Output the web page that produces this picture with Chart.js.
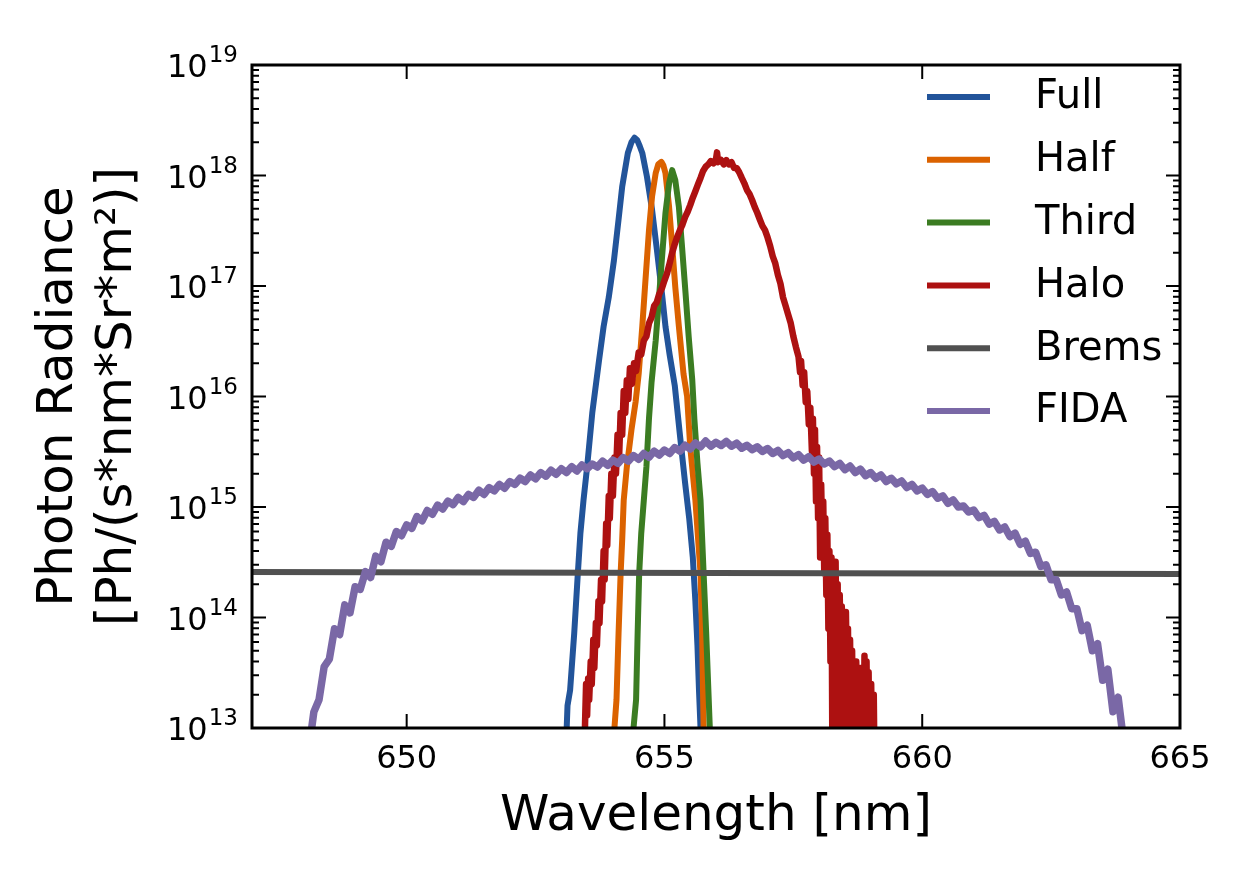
<!DOCTYPE html>
<html><head><meta charset="utf-8">
<script src="https://cdn.jsdelivr.net/npm/chart.js@4.4.1/dist/chart.umd.min.js"></script>
<style>html,body{margin:0;padding:0;background:#fff;}canvas{display:block;}</style>
</head><body>
<canvas id="c" width="1250" height="875"></canvas>
<script>
// ---------- data ----------
const seriesNames  = ['Full','Half','Third','Halo','Brems','FIDA'];
const seriesColors = ['#22549a','#db6200','#3b7c22','#ad1111','#505050','#7a68a6'];
const seriesWidths = [6, 6, 6, 6.5, 6, 7.5];

const xTickValues = [650, 655, 660, 665];
const yDecades = [13, 14, 15, 16, 17, 18, 19];
const yMinorMultipliers = [2, 3, 4, 5, 6, 7, 8, 9];

const fullWl  = [653.08,653.12,653.17,653.25,653.32,653.37,653.43,653.50,653.60,653.73,
                 653.82,653.92,654.02,654.11,654.18,654.29,654.36,654.42,654.47,654.52,
                 654.57,654.66,654.76,654.86,654.96,655.02,655.10,655.20,655.30,655.40,
                 655.48,655.55,655.60,655.64,655.67,655.70,655.72];
const fullVal = [5.0e12,1.6e13,2.2e13,7.2e13,2.5e14,5.8e14,1.15e15,2.3e15,7.1e15,2.1e16,
                 4.3e16,7.9e16,1.7e17,4.0e17,7.9e17,1.6e18,2.0e18,2.2e18,2.1e18,1.85e18,
                 1.6e18,9.8e17,4.9e17,2.0e17,7.9e16,4.3e16,2.4e16,1.26e16,4.5e15,1.66e15,
                 7.9e14,3.5e14,1.4e14,5.6e13,2.2e13,1.0e13,5.0e12];

const halfWl  = [654.00,654.03,654.07,654.11,654.15,654.18,654.21,654.27,654.36,654.44,
                 654.50,654.57,654.63,654.70,654.76,654.83,654.88,654.94,654.98,655.02,
                 655.09,655.15,655.21,655.28,655.37,655.44,655.50,655.60,655.70,655.73,
                 655.76,655.78];
const halfVal = [4.0e12,1.0e13,1.8e13,7.2e13,2.5e14,5.0e14,1.15e15,2.3e15,5.0e15,8.9e15,
                 1.6e16,4.3e16,1.1e17,3.2e17,6.5e17,1.05e18,1.26e18,1.33e18,1.23e18,1.05e18,
                 5.2e17,2.3e17,9.8e16,4.3e16,1.6e16,1.0e16,3.5e15,1.15e15,2.5e14,7.2e13,
                 1.0e13,4.0e12];

const thirdWl  = [654.38,654.40,654.45,654.48,654.51,654.55,654.60,654.65,654.70,654.75,
                  654.83,654.89,654.96,655.02,655.09,655.15,655.21,655.28,655.34,655.41,
                  655.47,655.54,655.58,655.64,655.70,655.76,655.81,655.88,655.90];
const thirdVal = [4.0e12,1.0e13,1.8e13,7.2e13,2.5e14,5.8e14,1.15e15,2.3e15,6.3e15,1.35e16,
                  3.2e16,7.4e16,2.0e17,4.6e17,8.5e17,1.12e18,9.1e17,5.2e17,2.3e17,8.5e16,
                  3.5e16,1.4e16,6.3e15,2.5e15,1.15e15,2.5e14,7.2e13,1.0e13,4.0e12];

const haloWl  = [653.44,653.46,653.48,653.50,653.52,653.54,653.57,653.59,653.62,653.64,
                 653.67,653.69,653.72,653.74,653.77,653.79,653.82,653.84,653.87,653.89,
                 653.92,653.94,653.97,654.00,654.03,654.06,654.09,654.12,654.15,654.18,
                 654.21,654.24,654.27,654.30,654.33,654.37,654.41,654.45,654.50,654.55,
                 654.60,654.65,654.70,654.75,654.80,654.85,654.90,654.95,655.00,655.05,
                 655.10,655.15,655.20,655.25,655.30,655.35,655.40,655.45,655.50,655.55,
                 655.60,655.65,655.70,655.75,655.80,655.85,655.90,655.95,656.00,656.02,
                 656.04,656.10,656.15,656.20,656.25,656.30,656.35,656.40,656.45,656.50,
                 656.55,656.60,656.65,656.70,656.75,656.80,656.85,656.90,656.95,657.00,
                 657.05,657.10,657.15,657.20,657.25,657.30,657.35,657.40,657.45,657.50,
                 657.55,657.60,657.63,657.65,657.68,657.71,657.74,657.77,657.80,657.83,
                 657.86,657.88,657.90,657.92,657.94,657.96,657.98,658.00,658.02,658.04,
                 658.06,658.08,658.10,658.12,658.14,658.16,658.18,658.20,658.22,658.24,
                 658.26,658.28,658.30,658.32,658.34,658.36,658.38,658.40,658.42,658.44,
                 658.46,658.48,658.50,658.52,658.54,658.56,658.58,658.60,658.62,658.64,
                 658.66,658.68,658.70,658.72,658.74,658.76,658.78,658.80,658.82,658.84,
                 658.86,658.88,658.90,658.92,658.94,658.96,658.98,659.01,659.03,659.06,
                 659.08];
const haloVal = [3.2e12,1.1e13,2.5e13,1.3e13,2.8e13,1.8e13,4.0e13,2.5e13,6.3e13,3.5e13,
                 8.9e13,5.6e13,1.4e14,8.9e13,2.2e14,1.4e14,4.0e14,2.2e14,7.1e14,4.5e14,
                 1.26e15,7.9e14,2.0e15,1.26e15,2.8e15,2.0e15,4.5e15,2.8e15,7.1e15,4.5e15,
                 1.12e16,7.1e15,1.4e16,9.5e15,1.8e16,1.3e16,2.0e16,1.7e16,2.5e16,2.4e16,
                 3.2e16,3.5e16,4.6e16,5.2e16,6.6e16,7.1e16,8.5e16,9.5e16,1.12e17,1.3e17,
                 1.6e17,2.0e17,2.4e17,2.8e17,3.2e17,3.6e17,4.2e17,4.7e17,5.4e17,6.3e17,
                 7.2e17,8.3e17,9.5e17,1.1e18,1.2e18,1.26e18,1.35e18,1.29e18,1.41e18,1.62e18,
                 1.32e18,1.38e18,1.26e18,1.38e18,1.26e18,1.32e18,1.17e18,1.17e18,1.07e18,9.5e17,
                 8.5e17,7.4e17,6.8e17,6.0e17,5.2e17,4.6e17,4.0e17,3.5e17,3.2e17,2.75e17,
                 2.3e17,1.86e17,1.6e17,1.26e17,1.05e17,7.9e16,6.6e16,5.5e16,4.6e16,3.5e16,
                 2.8e16,2.3e16,1.66e16,2.1e16,1.26e16,1.66e16,8.9e15,1.12e16,5.6e15,7.9e15,
                 3.2e15,6.3e15,2.0e15,5.0e15,1.12e15,3.5e15,7.9e14,2.8e15,3.5e14,1.6e15,
                 5.0e14,1.12e15,2.5e14,7.9e14,1.6e14,5.6e14,7.9e13,4.0e14,4.0e13,3.5e14,
                 3.2e12,2.8e14,5.0e13,3.2e14,2.5e13,2.0e14,3.2e12,1.6e14,4.0e13,1.26e14,
                 3.2e12,8.9e13,1.6e13,1.12e14,2.5e13,7.9e13,3.2e12,6.3e13,1.0e13,5.0e13,
                 3.2e12,3.5e13,6.3e12,4.0e13,3.2e12,2.5e13,7.9e12,3.5e13,3.2e12,2.0e13,
                 3.2e12,4.5e13,3.2e12,4.0e13,4.0e12,3.2e13,3.2e12,2.5e13,3.2e12,2.0e13,
                 2.5e12];

const bremsWl  = [647.0, 656.0, 665.0];
const bremsVal = [2.58e14, 2.53e14, 2.48e14];

const fidaWl  = [648.1,648.2,648.3,648.4,648.5,648.6,648.7,648.8,648.9,649.0,
                 649.1,649.2,649.3,649.4,649.5,649.6,649.7,649.8,649.9,650.0,
                 650.1,650.2,650.3,650.4,650.5,650.6,650.7,650.8,650.9,651.0,
                 651.1,651.2,651.3,651.4,651.5,651.6,651.7,651.8,651.9,652.0,
                 652.1,652.2,652.3,652.4,652.5,652.6,652.7,652.8,652.9,653.0,
                 653.1,653.2,653.3,653.4,653.5,653.6,653.7,653.8,653.9,654.0,
                 654.1,654.2,654.3,654.4,654.5,654.6,654.7,654.8,654.9,655.0,
                 655.1,655.2,655.3,655.4,655.5,655.6,655.7,655.8,655.9,656.0,
                 656.1,656.2,656.3,656.4,656.5,656.6,656.7,656.8,656.9,657.0,
                 657.1,657.2,657.3,657.4,657.5,657.6,657.7,657.8,657.9,658.0,
                 658.1,658.2,658.3,658.4,658.5,658.6,658.7,658.8,658.9,659.0,
                 659.1,659.2,659.3,659.4,659.5,659.6,659.7,659.8,659.9,660.0,
                 660.1,660.2,660.3,660.4,660.5,660.6,660.7,660.8,660.9,661.0,
                 661.1,661.2,661.3,661.4,661.5,661.6,661.7,661.8,661.9,662.0,
                 662.1,662.2,662.3,662.4,662.5,662.6,662.7,662.8,662.9,663.0,
                 663.1,663.2,663.3,663.4,663.5,663.6,663.7,663.8,663.9,664.0];
const fidaVal = [6.3e12,1.4e13,1.8e13,3.6e13,4.2e13,7.9e13,7.0e13,1.3e14,1.1e14,1.9e14,
                 1.8e14,2.6e14,2.3e14,3.6e14,3.2e14,4.8e14,4.4e14,6.0e14,5.5e14,6.9e14,
                 6.4e14,8.2e14,7.5e14,9.3e14,8.6e14,1.04e15,9.6e14,1.13e15,1.05e15,1.22e15,
                 1.12e15,1.30e15,1.22e15,1.42e15,1.30e15,1.50e15,1.40e15,1.60e15,1.48e15,1.70e15,
                 1.60e15,1.82e15,1.70e15,1.95e15,1.80e15,2.05e15,1.90e15,2.15e15,1.98e15,2.22e15,
                 2.05e15,2.32e15,2.12e15,2.40e15,2.22e15,2.45e15,2.30e15,2.60e15,2.38e15,2.66e15,
                 2.48e15,2.80e15,2.60e15,2.92e15,2.70e15,3.05e15,2.82e15,3.20e15,2.95e15,3.28e15,
                 3.05e15,3.45e15,3.20e15,3.62e15,3.35e15,3.80e15,3.50e15,3.95e15,3.55e15,3.85e15,
                 3.60e15,3.92e15,3.55e15,3.78e15,3.40e15,3.62e15,3.30e15,3.50e15,3.18e15,3.38e15,
                 3.05e15,3.25e15,2.92e15,3.10e15,2.78e15,2.98e15,2.66e15,2.85e15,2.55e15,2.72e15,
                 2.45e15,2.60e15,2.32e15,2.48e15,2.18e15,2.35e15,2.05e15,2.20e15,1.92e15,2.05e15,
                 1.82e15,1.95e15,1.70e15,1.82e15,1.62e15,1.72e15,1.50e15,1.60e15,1.40e15,1.48e15,
                 1.30e15,1.38e15,1.20e15,1.26e15,1.08e15,1.16e15,1.00e15,1.02e15,9.0e14,9.4e14,
                 8.0e14,8.4e14,7.0e14,7.4e14,6.2e14,6.6e14,5.4e14,5.8e14,4.6e14,4.9e14,
                 3.8e14,3.9e14,2.9e14,3.0e14,2.2e14,2.2e14,1.6e14,1.7e14,1.2e14,1.2e14,
                 7.6e13,8.5e13,5.0e13,5.8e13,2.7e13,3.4e13,1.4e13,1.9e13,8.0e12,5.0e12];

// ---------- chart ----------
const seriesWl  = [fullWl, halfWl, thirdWl, haloWl, bremsWl, fidaWl];
const seriesVal = [fullVal, halfVal, thirdVal, haloVal, bremsVal, fidaVal];

const datasets = seriesNames.map((name, i) => ({
  label: name,
  data: seriesWl[i].map((w, k) => ({ x: w, y: seriesVal[i][k] })),
  borderColor: seriesColors[i],
  backgroundColor: seriesColors[i],
  borderWidth: seriesWidths[i],
  borderJoinStyle: 'round',
  borderCapStyle: 'butt',
  pointRadius: 0,
  tension: 0,
  fill: false,
  order: seriesNames.length - 1 - i
}));

Chart.defaults.font.family = '"DejaVu Sans", "Liberation Sans", sans-serif';
Chart.defaults.color = '#000';

const frameAndLabels = {
  id: 'frameAndLabels',
  afterDatasetsDraw(chart) {
    const { ctx, chartArea: a, scales: { x, y } } = chart;
    ctx.save();
    ctx.strokeStyle = '#000';
    ctx.lineWidth = 2;
    ctx.beginPath();
    xTickValues.forEach(v => {
      const px = x.getPixelForValue(v);
      ctx.moveTo(px, a.bottom); ctx.lineTo(px, a.bottom - 14);
      ctx.moveTo(px, a.top);    ctx.lineTo(px, a.top + 14);
    });
    y.ticks.forEach(t => {
      const py = y.getPixelForValue(t.value);
      const len = t.major ? 14 : 7;
      ctx.moveTo(a.left, py);  ctx.lineTo(a.left + len, py);
      ctx.moveTo(a.right, py); ctx.lineTo(a.right - len, py);
    });
    ctx.stroke();
    ctx.lineWidth = 3;
    ctx.strokeRect(a.left, a.top, a.right - a.left, a.bottom - a.top);

    // y tick labels: 10^n with raised exponent
    ctx.fillStyle = '#000';
    ctx.textBaseline = 'alphabetic';
    yDecades.forEach(n => {
      const py = y.getPixelForValue(Math.pow(10, n));
      const sup = String(n);
      ctx.font = '23px "DejaVu Sans"';
      const sw = ctx.measureText(sup).width;
      const xs = a.left - 14 - sw;
      ctx.textAlign = 'left';
      ctx.fillText(sup, xs, py - 3);
      ctx.font = '32px "DejaVu Sans"';
      ctx.textAlign = 'right';
      ctx.fillText('10', xs - 1, py + 12);
    });

    // legend (top-right inside the axes, no frame)
    ctx.font = '40px "DejaVu Sans"';
    ctx.textAlign = 'left';
    ctx.textBaseline = 'middle';
    chart.data.datasets.forEach((ds, i) => {
      const ly = a.top + 32 + i * 62.8;
      ctx.strokeStyle = ds.borderColor;
      ctx.lineWidth = 6;
      ctx.beginPath();
      ctx.moveTo(a.right - 253, ly); ctx.lineTo(a.right - 190, ly);
      ctx.stroke();
      ctx.fillStyle = '#000';
      ctx.fillText(ds.label, a.right - 145, ly + 1);
    });
    ctx.restore();
  }
};

new Chart(document.getElementById('c'), {
  type: 'line',
  data: { datasets },
  options: {
    responsive: false,
    animation: false,
    events: [],
    layout: { padding: { top: 65, right: 70, left: 0, bottom: 0 } },
    plugins: { legend: { display: false }, tooltip: { enabled: false } },
    scales: {
      x: {
        type: 'linear', min: 647, max: 665,
        grid: { display: false, drawTicks: false },
        border: { display: false },
        afterBuildTicks: s => { s.ticks = xTickValues.map(v => ({ value: v })); },
        afterFit: s => { s.height = 147; },
        ticks: { autoSkip: false, padding: 12, maxRotation: 0, font: { size: 32 }, color: '#000' },
        title: { display: true, text: 'Wavelength [nm]', color: '#000',
                 font: { size: 50, lineHeight: 1.17 }, padding: { top: 0, bottom: 29 } }
      },
      y: {
        type: 'logarithmic', min: 1e13, max: 1e19,
        grid: { display: false, drawTicks: false },
        border: { display: false },
        afterBuildTicks: s => {
          const t = [];
          yDecades.forEach(n => {
            t.push({ value: Math.pow(10, n), major: true });
            if (n < 19) yMinorMultipliers.forEach(m => t.push({ value: m * Math.pow(10, n), major: false }));
          });
          s.ticks = t;
        },
        afterFit: s => { s.width = 252; },
        ticks: { display: false },
        title: { display: true, text: ['Photon Radiance', '[Ph/(s*nm*Sr*m²)]'], color: '#000',
                 font: { size: 50, lineHeight: 1.17 }, padding: { top: 30, bottom: 0 } }
      }
    }
  },
  plugins: [frameAndLabels]
});
</script>
</body></html>
